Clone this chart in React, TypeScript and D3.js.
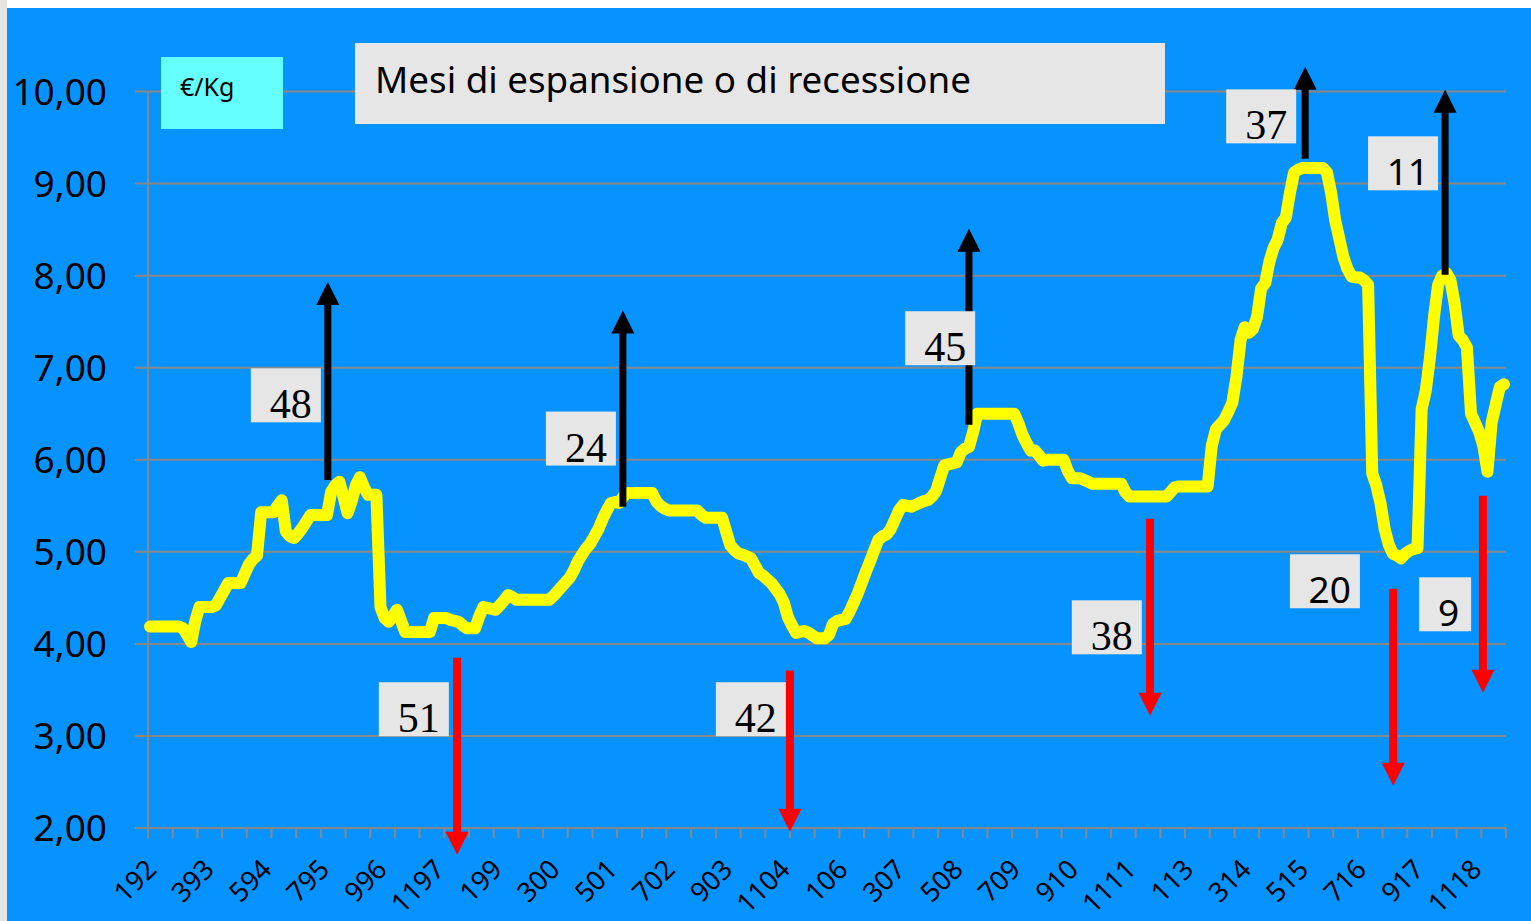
import React, { useEffect, useRef } from 'react';
import * as d3 from 'd3';

// monthly price €/Kg, Jan 1992 -> Jun 2019
const prices: number[] = [
  4.19, 4.19, 4.19, 4.19, 4.19, 4.19, 4.19, 4.19, 4.17, 4.10,
  4.02, 4.25, 4.40, 4.40, 4.40, 4.40, 4.42, 4.50, 4.58, 4.66,
  4.66, 4.66, 4.66, 4.76, 4.86, 4.92, 4.96, 5.43, 5.43, 5.43,
  5.43, 5.50, 5.56, 5.22, 5.17, 5.15, 5.20, 5.26, 5.33, 5.40,
  5.40, 5.40, 5.40, 5.40, 5.65, 5.72, 5.76, 5.60, 5.42, 5.55,
  5.72, 5.81, 5.70, 5.62, 5.62, 5.62, 4.40, 4.28, 4.24, 4.30,
  4.37, 4.25, 4.13, 4.13, 4.13, 4.13, 4.13, 4.13, 4.13, 4.28,
  4.28, 4.28, 4.28, 4.26, 4.25, 4.24, 4.20, 4.17, 4.17, 4.17,
  4.30, 4.40, 4.39, 4.38, 4.37, 4.42, 4.47, 4.53, 4.51, 4.48,
  4.48, 4.48, 4.48, 4.48, 4.48, 4.48, 4.48, 4.48, 4.52, 4.57,
  4.62, 4.67, 4.72, 4.80, 4.90, 4.97, 5.04, 5.09, 5.17, 5.25,
  5.36, 5.45, 5.53, 5.54, 5.53, 5.60, 5.64, 5.64, 5.64, 5.64,
  5.64, 5.64, 5.64, 5.55, 5.50, 5.47, 5.45, 5.45, 5.45, 5.45,
  5.45, 5.45, 5.45, 5.45, 5.40, 5.37, 5.37, 5.37, 5.37, 5.37,
  5.22, 5.07, 5.02, 4.98, 4.97, 4.95, 4.93, 4.85, 4.77, 4.74,
  4.70, 4.66, 4.60, 4.54, 4.45, 4.29, 4.20, 4.12, 4.13, 4.14,
  4.12, 4.09, 4.06, 4.06, 4.06, 4.10, 4.22, 4.25, 4.26, 4.27,
  4.35, 4.45, 4.55, 4.67, 4.79, 4.90, 5.02, 5.13, 5.17, 5.19,
  5.25, 5.35, 5.45, 5.51, 5.50, 5.49, 5.51, 5.53, 5.55, 5.56,
  5.60, 5.66, 5.80, 5.94, 5.95, 5.96, 5.97, 6.08, 6.12, 6.14,
  6.30, 6.50, 6.50, 6.50, 6.50, 6.50, 6.50, 6.50, 6.50, 6.50,
  6.50, 6.40, 6.27, 6.18, 6.10, 6.10, 6.05, 5.99, 6.00, 6.00,
  6.00, 6.00, 6.00, 5.88, 5.80, 5.80, 5.80, 5.78, 5.76, 5.74,
  5.74, 5.74, 5.74, 5.74, 5.74, 5.74, 5.74, 5.65, 5.60, 5.60,
  5.60, 5.60, 5.60, 5.60, 5.60, 5.60, 5.60, 5.60, 5.65, 5.70,
  5.71, 5.71, 5.71, 5.71, 5.71, 5.71, 5.71, 5.71, 6.15, 6.33,
  6.38, 6.43, 6.52, 6.62, 6.90, 7.30, 7.44, 7.38, 7.42, 7.55,
  7.86, 7.92, 8.15, 8.30, 8.39, 8.57, 8.63, 8.90, 9.12, 9.15,
  9.17, 9.17, 9.17, 9.17, 9.17, 9.17, 9.12, 8.90, 8.60, 8.40,
  8.20, 8.07, 7.99, 7.98, 7.98, 7.95, 7.90, 5.85, 5.72, 5.53,
  5.25, 5.08, 4.98, 4.96, 4.93, 4.98, 5.01, 5.03, 5.04, 6.55,
  6.75, 7.10, 7.55, 7.90, 8.00, 8.03, 7.95, 7.70, 7.35, 7.30,
  7.22, 6.50, 6.40, 6.30, 6.15, 5.87, 6.40, 6.60, 6.79, 6.82,
];

const tickLabels = [
  '192', '393', '594', '795', '996', '1197', '199', '300', '501', '702', '903', '1104',
  '106', '307', '508', '709', '910', '1111', '113', '314', '515', '716', '917', '1118',
];
const labelEvery = 14;
const tickEvery = 6;
const yTicks = [2, 3, 4, 5, 6, 7, 8, 9, 10];

// months of expansion (up) / recession (down)
const noteLabels = ['48', '24', '45', '37', '11', '51', '42', '38', '20', '9'];
const noteUp = [true, true, true, true, true, false, false, false, false, false];
const noteSerif = [true, true, true, true, false, true, true, true, false, false];
// arrow position (month) and value span
const noteMonth = [43.7, 115.4, 199.5, 281.2, 315.2, 75.1, 156.0, 243.5, 302.6, 324.4];
const noteFrom = [5.78, 5.49, 6.38, 9.27, 8.01, 3.85, 3.71, 5.36, 4.60, 5.61];
const noteTo = [7.93, 7.62, 8.51, 10.27, 10.02, 1.71, 1.96, 3.22, 2.46, 3.47];
// label box centre (month, value)
const boxMonth = [33.5, 105.2, 192.5, 270.5, 304.98, 64.6, 146.5, 233.0, 286.0, 315.2];
const boxValue = [6.70, 6.23, 7.32, 9.73, 9.22, 3.29, 3.29, 4.18, 4.68, 4.43];

const W = 1531;
const H = 921;
const SANS = "'Noto Sans', 'Open Sans', sans-serif";
const SERIF = "'Liberation Serif', 'DejaVu Serif', serif";

const App: React.FC = () => {
  const svgRef = useRef<SVGSVGElement>(null);

  useEffect(() => {
    if (!svgRef.current) return;
    const svg = d3.select(svgRef.current);
    svg.selectAll('*').remove();

    const left = 148, right = 1506, top = 91.5, bottom = 828;
    const n = prices.length;
    const x = d3.scaleLinear().domain([0, n]).range([left, right]);
    const y = d3.scaleLinear().domain([2, 10]).range([bottom, top]);

    // background
    svg.append('rect').attr('width', W).attr('height', H).attr('fill', '#ffffff');
    svg.append('rect').attr('width', 7).attr('height', H).attr('fill', '#e6e5e1');
    svg.append('rect').attr('x', 7).attr('y', 8).attr('width', W - 7).attr('height', H - 8).attr('fill', '#0693ff');

    const grid = '#888888';
    // horizontal grid + y ticks
    svg.append('g').selectAll('line').data(yTicks).join('line')
      .attr('x1', left - 13).attr('x2', right)
      .attr('y1', d => y(d)).attr('y2', d => y(d))
      .attr('stroke', grid).attr('stroke-width', 2);
    svg.append('line').attr('x1', left).attr('x2', left).attr('y1', top).attr('y2', bottom)
      .attr('stroke', grid).attr('stroke-width', 2);

    svg.append('g').selectAll('text').data(yTicks).join('text')
      .attr('x', 107).attr('y', d => y(d)).attr('dy', '0.36em')
      .attr('text-anchor', 'end').attr('font-family', SANS).attr('font-size', 37)
      .attr('fill', '#000').text(d => d.toFixed(2).replace('.', ','));

    // x ticks
    const tickIdx = d3.range(0, n + 1, tickEvery);
    svg.append('g').selectAll('line').data(tickIdx).join('line')
      .attr('x1', d => x(d)).attr('x2', d => x(d))
      .attr('y1', bottom).attr('y2', bottom + 10)
      .attr('stroke', grid).attr('stroke-width', 2);

    svg.append('g').selectAll('text').data(tickLabels).join('text')
      .attr('transform', (_, i) => `translate(${x(i * labelEvery + 0.5) + 8},${bottom + 43}) rotate(-45)`)
      .attr('text-anchor', 'end').attr('font-family', SANS).attr('font-size', 27)
      .attr('fill', '#000').text(d => d);

    // price line
    const line = d3.line<number>()
      .x((_, i) => x(i + 0.5))
      .y(d => y(d));
    svg.append('path').datum(prices)
      .attr('fill', 'none').attr('stroke', '#ffff00').attr('stroke-width', 12)
      .attr('stroke-linejoin', 'round').attr('stroke-linecap', 'round')
      .attr('d', line);

    // unit box
    svg.append('rect').attr('x', 161).attr('y', 57).attr('width', 122).attr('height', 72).attr('fill', '#66ffff');
    svg.append('text').attr('x', 180).attr('y', 96).attr('font-family', SANS).attr('font-size', 25)
      .attr('fill', '#000').text('€/Kg');

    // title box
    svg.append('rect').attr('x', 355).attr('y', 43).attr('width', 810).attr('height', 81).attr('fill', '#e6e6e6');
    svg.append('text').attr('x', 375).attr('y', 93).attr('font-family', SANS).attr('font-size', 36)
      .attr('textLength', 596).attr('lengthAdjust', 'spacingAndGlyphs')
      .attr('fill', '#000').text('Mesi di espansione o di recessione');

    // annotations
    const head = 23;
    noteLabels.forEach((lab, i) => {
      const up = noteUp[i];
      const color = up ? '#000000' : '#ff0000';
      const ax = x(noteMonth[i]);
      const y0 = y(noteFrom[i]);
      const y1 = y(noteTo[i]);
      const dir = up ? 1 : -1;
      svg.append('line').attr('x1', ax).attr('x2', ax)
        .attr('y1', y0).attr('y2', y1 + dir * (head - 2))
        .attr('stroke', color).attr('stroke-width', up ? 7 : 8);
      svg.append('path')
        .attr('d', `M${ax},${y1} L${ax - 11.5},${y1 + dir * head} L${ax + 11.5},${y1 + dir * head} Z`)
        .attr('fill', color);

      const bw = lab.length === 1 ? 52 : 70;
      const bh = 54;
      const cx = x(boxMonth[i]);
      const cy = y(boxValue[i]);
      svg.append('rect').attr('x', cx - bw / 2).attr('y', cy - bh / 2)
        .attr('width', bw).attr('height', bh).attr('fill', '#e6e6e6');
      const serif = noteSerif[i];
      svg.append('text')
        .attr('x', cx + bw / 2 - (serif ? 9 : lab.length === 1 ? 12 : 9))
        .attr('y', cy + bh / 2 - (serif ? 4 : 5))
        .attr('text-anchor', 'end')
        .attr('font-family', serif ? SERIF : SANS)
        .attr('font-size', serif ? 42 : 37)
        .attr('fill', '#000').text(lab);
    });
  }, []);

  return (
    <div style={{ position: 'absolute', left: 0, top: 0 }}>
      <svg ref={svgRef} width={W} height={H} style={{ display: 'block' }}></svg>
    </div>
  );
};

export default App;
